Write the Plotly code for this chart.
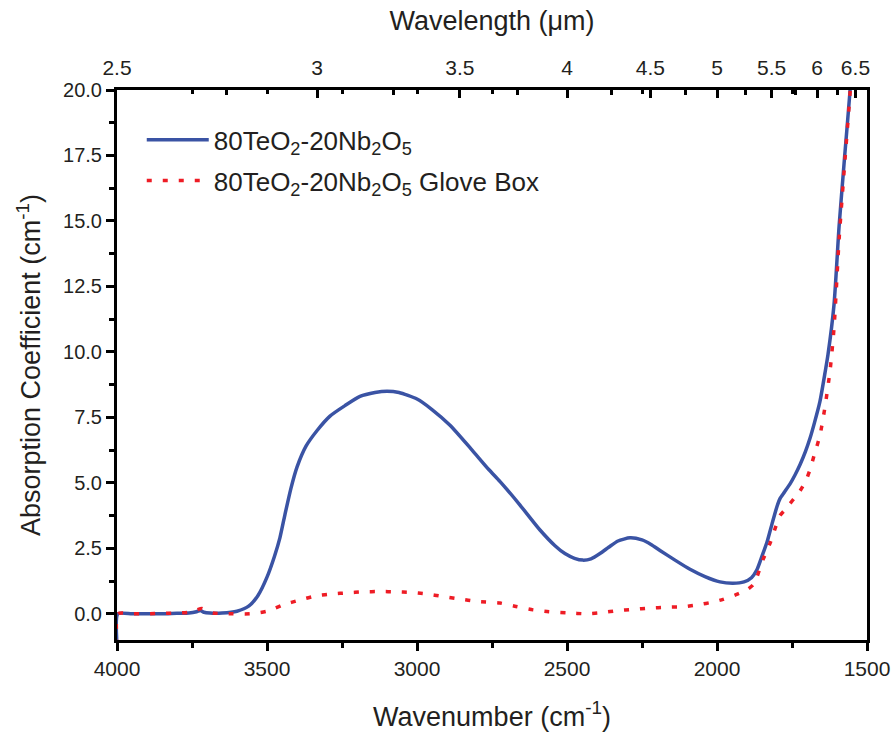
import plotly.graph_objects as go

# Blue: 80TeO2-20Nb2O5
wn_blue = [4000, 3997, 3950, 3900, 3850, 3800, 3760, 3735, 3722, 3710, 3690, 3650, 3600, 3560,
           3530, 3500, 3475, 3457, 3440, 3420, 3400, 3370, 3333, 3290, 3240, 3190, 3140, 3100,
           3060, 3000, 2950, 2890, 2820, 2760, 2723, 2660, 2590, 2540, 2507, 2475, 2447, 2420,
           2390, 2360, 2330, 2290, 2250, 2220, 2190, 2140, 2090, 2040, 1990, 1947, 1910, 1885,
           1867, 1850, 1833, 1815, 1800, 1790, 1775, 1757, 1740, 1723, 1705, 1690, 1675, 1657,
           1640, 1630, 1610, 1593, 1575, 1557, 1545]
ab_blue = [-1.2, 0.0, 0.0, 0.0, 0.0, 0.02, 0.03, 0.08, 0.13, 0.06, 0.03, 0.03, 0.1, 0.3,
           0.7, 1.4, 2.2, 2.9, 3.8, 4.8, 5.6, 6.4, 7.0, 7.55, 7.95, 8.3, 8.45, 8.5,
           8.45, 8.2, 7.8, 7.2, 6.3, 5.5, 5.05, 4.2, 3.2, 2.6, 2.3, 2.12, 2.05, 2.1,
           2.3, 2.55, 2.78, 2.9, 2.82, 2.65, 2.42, 2.05, 1.7, 1.42, 1.22, 1.17, 1.22, 1.38,
           1.68, 2.2, 2.75, 3.5, 4.1, 4.4, 4.65, 4.95, 5.3, 5.7, 6.2, 6.7, 7.3, 8.1,
           9.2, 9.9, 11.8, 14.8, 17.4, 19.9, 22.0]

# Red dotted: 80TeO2-20Nb2O5 Glove Box
wn_red = [4000, 3997, 3950, 3900, 3850, 3800, 3760, 3735, 3717, 3700, 3680, 3650, 3613, 3557,
          3500, 3447, 3390, 3333, 3280, 3233, 3180, 3123, 3070, 3023, 2970, 2913, 2860, 2800,
          2723, 2670, 2613, 2560, 2500, 2433, 2380, 2333, 2280, 2223, 2170, 2113, 2060, 2013,
          1980, 1957, 1930, 1900, 1880, 1867, 1847, 1823, 1805, 1790, 1775, 1757, 1740, 1723,
          1705, 1690, 1675, 1657, 1640, 1623, 1610, 1593, 1575, 1557, 1545]
ab_red = [-1.2, 0.0, 0.0, 0.0, 0.02, 0.03, 0.06, 0.15, 0.2, 0.1, 0.03, 0.01, 0.0, 0.0,
          0.1, 0.34, 0.53, 0.69, 0.76, 0.8, 0.84, 0.85, 0.84, 0.82, 0.76, 0.66, 0.57, 0.47,
          0.41, 0.28, 0.15, 0.08, 0.04, 0.0, 0.05, 0.12, 0.17, 0.22, 0.25, 0.27, 0.35, 0.45,
          0.55, 0.64, 0.76, 0.92, 1.1, 1.4, 2.06, 2.7, 3.3, 3.75, 3.95, 4.2, 4.45, 4.7,
          5.05, 5.5, 6.1, 6.8, 7.9, 9.3, 10.9, 14.3, 17.1, 19.8, 22.0]

# Axis ticks
wavelength_major = [2.5, 3, 3.5, 4, 4.5, 5, 5.5, 6, 6.5]
wavelength_minor = [2.75, 3.25, 3.75, 4.25, 4.75, 5.25, 5.75, 6.25]
wavelength_labels = ["2.5", "3", "3.5", "4", "4.5", "5", "5.5", "6", "6.5"]
wn_mirror_ticks = [3750, 3500, 3250, 3000, 2750, 2500, 2250, 2000, 1750]

FONT = "Liberation Sans, Arial, sans-serif"
BLUE = "#3a53a4"
RED = "#ee1c25"
TXT = "#231f20"

fig = go.Figure()
fig.add_trace(go.Scatter(
    x=wn_blue, y=ab_blue, mode="lines", line=dict(color=BLUE, width=3.5, shape="spline", smoothing=0.6),
    name="80TeO<sub>2</sub>-20Nb<sub>2</sub>O<sub>5</sub>", legendgroup="a"))
fig.add_trace(go.Scatter(
    x=wn_red, y=ab_red, mode="lines",
    line=dict(color=RED, width=3.5, dash="5px,11px", shape="spline", smoothing=0.6),
    name="80TeO<sub>2</sub>-20Nb<sub>2</sub>O<sub>5</sub> Glove Box", legendgroup="b"))
# dummy traces to bind the top axes
fig.add_trace(go.Scatter(x=[None], y=[None], xaxis="x2", showlegend=False, hoverinfo="skip"))
fig.add_trace(go.Scatter(x=[None], y=[None], xaxis="x3", showlegend=False, hoverinfo="skip"))

fig.update_layout(
    width=896, height=737,
    margin=dict(l=117, r=29, t=90, b=97),
    paper_bgcolor="white", plot_bgcolor="white",
    font=dict(family=FONT, size=21, color=TXT),
    showlegend=True,
    legend=dict(x=0.033, y=0.952, xanchor="left", yanchor="top",
                font=dict(size=26, family=FONT, color=TXT),
                bgcolor="rgba(0,0,0,0)", tracegroupgap=4, itemwidth=62),
    xaxis=dict(
        range=[4000, 1500], tickmode="array", tickvals=[4000, 3500, 3000, 2500, 2000, 1500],
        ticks="outside", ticklen=8, tickwidth=2.5, tickcolor="black", automargin=False,
        minor=dict(tickmode="array", tickvals=[3750, 3250, 2750, 2250, 1750],
                   ticks="outside", ticklen=5, tickwidth=2.5, tickcolor="black"),
        showline=True, linewidth=3, linecolor="black", showgrid=False, zeroline=False,
        tickfont=dict(size=21, family=FONT, color=TXT),
        title=dict(text="Wavenumber (cm<sup>-1</sup>)", font=dict(size=27, family=FONT, color=TXT),
                   standoff=28)),
    xaxis2=dict(
        overlaying="x", side="top", anchor="y", range=[4000, 1500], automargin=False,
        tickmode="array", tickvals=[10000 / w for w in wavelength_major], ticktext=wavelength_labels,
        ticks="inside", ticklen=8, tickwidth=2.5, tickcolor="black", ticklabelstandoff=4,
        minor=dict(tickmode="array", tickvals=[10000 / w for w in wavelength_minor],
                   ticks="inside", ticklen=5, tickwidth=2.5, tickcolor="black"),
        showline=True, linewidth=3, linecolor="black", showgrid=False, zeroline=False,
        tickfont=dict(size=21, family=FONT, color=TXT),
        title=dict(text="Wavelength (\u03bcm)", font=dict(size=27, family=FONT, color=TXT),
                   standoff=18)),
    xaxis3=dict(
        overlaying="x", side="top", anchor="y", range=[4000, 1500], automargin=False,
        tickmode="array", tickvals=wn_mirror_ticks, showticklabels=False,
        ticks="inside", ticklen=4, tickwidth=2.5, tickcolor="black",
        showline=False, showgrid=False, zeroline=False),
    yaxis=dict(
        range=[-1, 20], tickmode="array", tickvals=[0, 2.5, 5, 7.5, 10, 12.5, 15, 17.5, 20],
        ticktext=["0.0", "2.5", "5.0", "7.5", "10.0", "12.5", "15.0", "17.5", "20.0"],
        ticks="outside", ticklen=8, tickwidth=2.5, tickcolor="black", automargin=False,
        minor=dict(tickmode="array", tickvals=[1.25, 3.75, 6.25, 8.75, 11.25, 13.75, 16.25, 18.75],
                   ticks="outside", ticklen=5, tickwidth=2.5, tickcolor="black"),
        showline=True, mirror=True, linewidth=3, linecolor="black", showgrid=False, zeroline=False,
        tickfont=dict(size=20, family=FONT, color=TXT),
        title=dict(text="Absorption Coefficient (cm<sup>-1</sup>)",
                   font=dict(size=27, family=FONT, color=TXT), standoff=15)),
)

fig.write_html("out.html")
